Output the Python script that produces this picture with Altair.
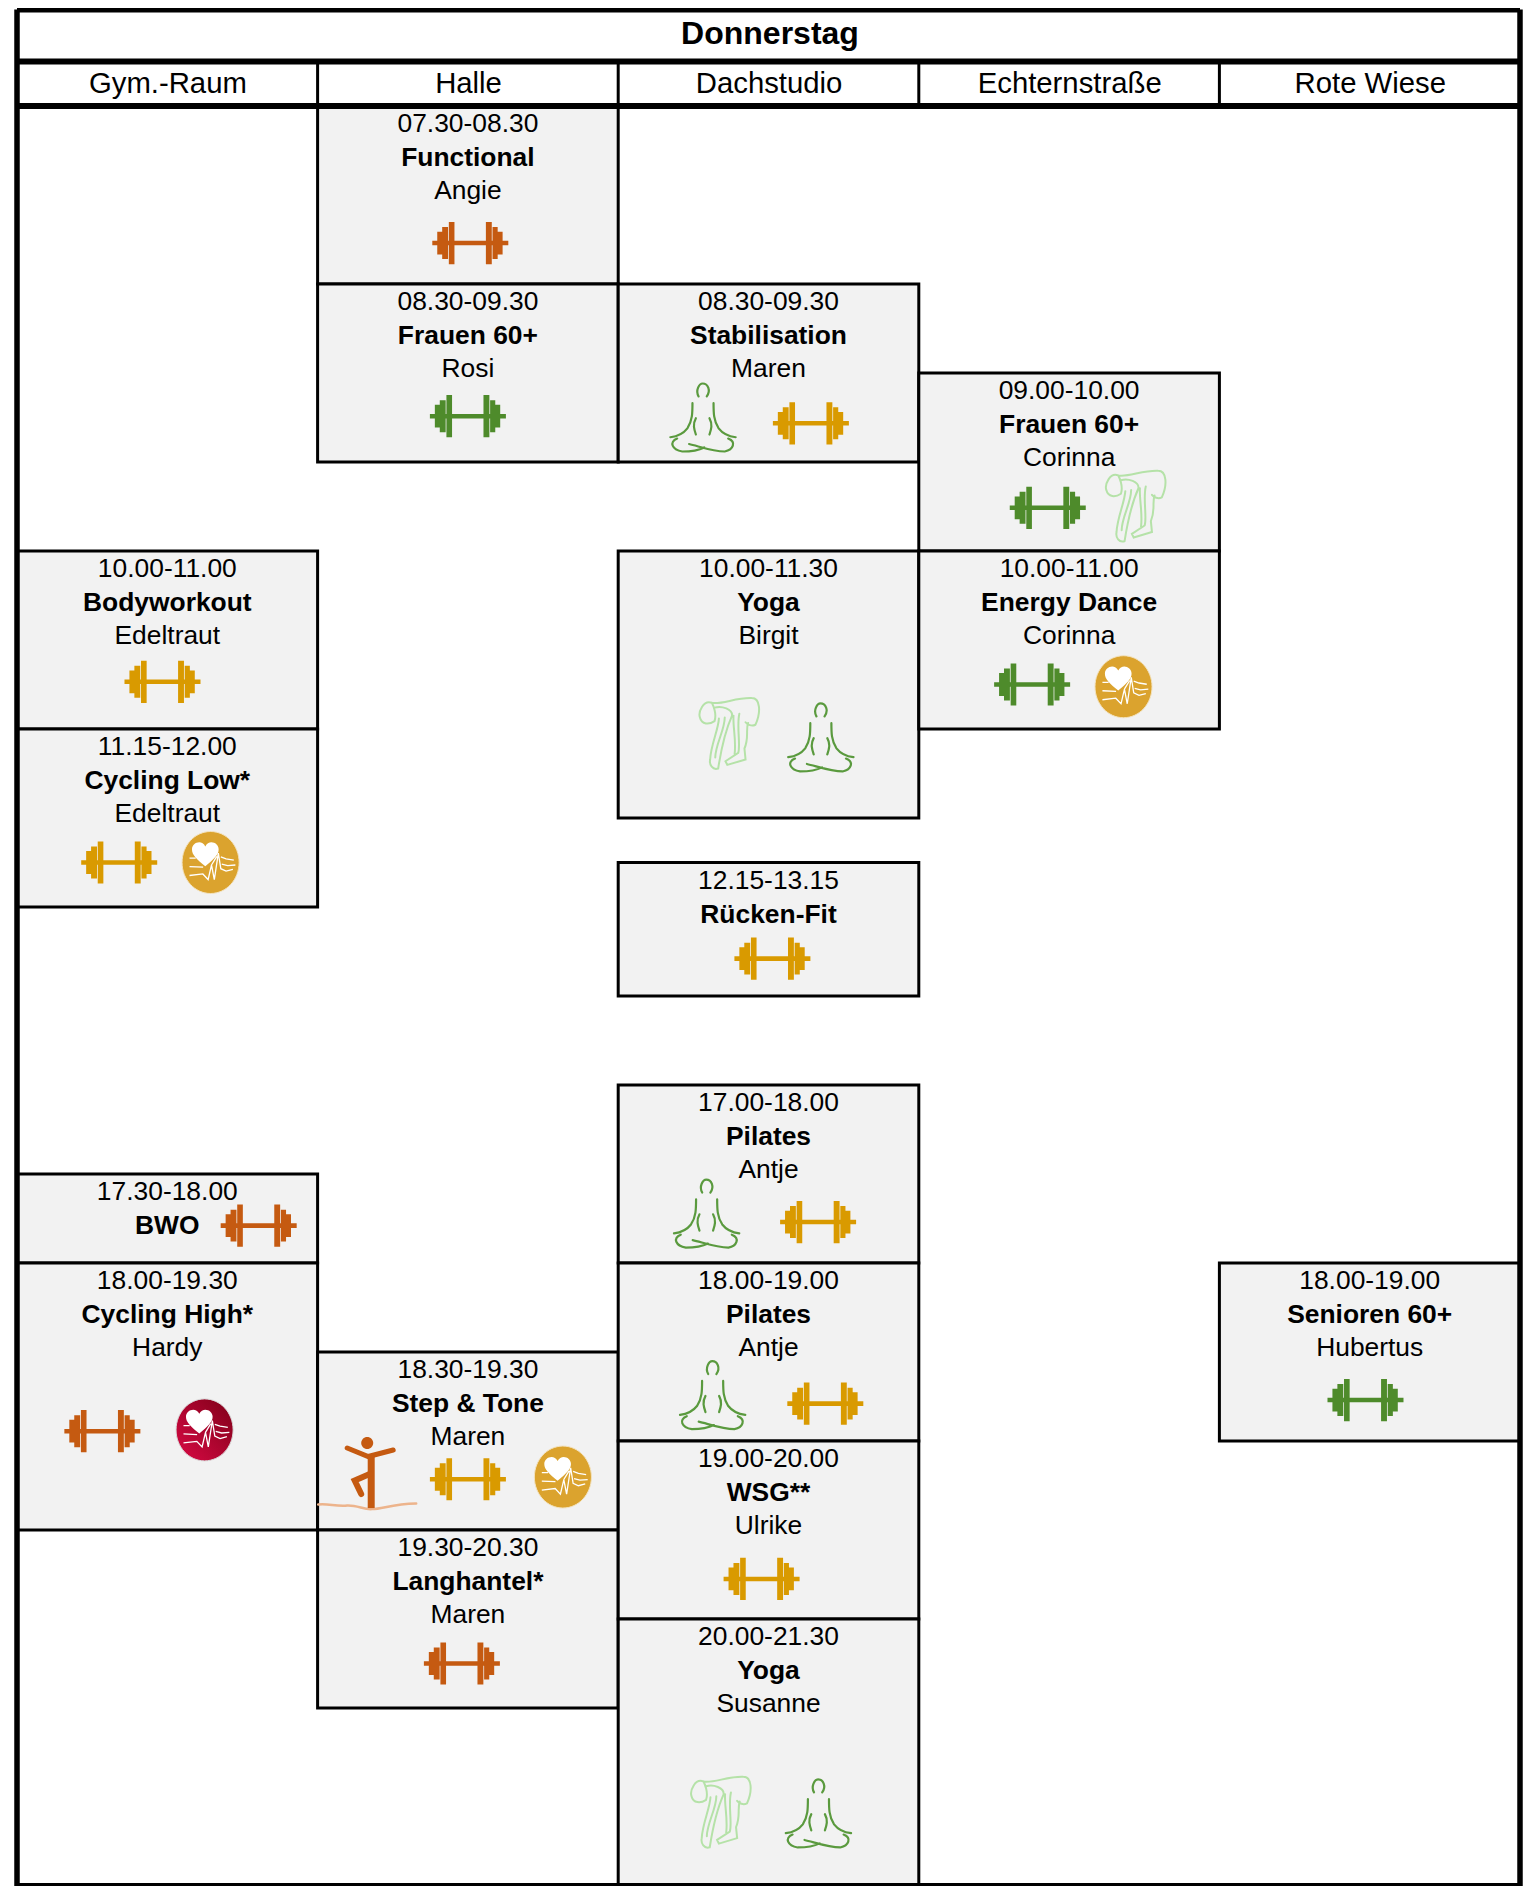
import altair as alt
import pandas as pd

FONT = "Liberation Sans"
DAY = "Donnerstag"
ROOMS = ["Gym.-Raum", "Halle", "Dachstudio", "Echternstraße", "Rote Wiese"]

# room index, first grid slot, last grid slot
CELL_ROOM = [1, 1, 2, 3, 0, 2, 3, 0, 2, 2, 0, 0, 1, 2, 1, 2, 2, 4]
CELL_START = [0, 4, 4, 6, 10, 10, 10, 14, 17, 22, 24, 26, 28, 26, 32, 30, 34, 26]
CELL_END = [4, 8, 8, 10, 14, 16, 14, 18, 20, 26, 26, 32, 32, 30, 36, 34, 40, 30]
CELL_TIME = ["07.30-08.30", "08.30-09.30", "08.30-09.30", "09.00-10.00", "10.00-11.00",
             "10.00-11.30", "10.00-11.00", "11.15-12.00", "12.15-13.15", "17.00-18.00",
             "17.30-18.00", "18.00-19.30", "18.30-19.30", "18.00-19.00", "19.30-20.30",
             "19.00-20.00", "20.00-21.30", "18.00-19.00"]
CELL_NAME = ["Functional", "Frauen 60+", "Stabilisation", "Frauen 60+", "Bodyworkout",
             "Yoga", "Energy Dance", "Cycling Low*", "Rücken-Fit", "Pilates",
             "BWO", "Cycling High*", "Step & Tone", "Pilates", "Langhantel*",
             "WSG**", "Yoga", "Senioren 60+"]
CELL_COACH = ["Angie", "Rosi", "Maren", "Corinna", "Edeltraut", "Birgit", "Corinna", "Edeltraut",
              "", "Antje", "", "Hardy", "Maren", "Antje", "Maren", "Ulrike", "Susanne", "Hubertus"]

# dumbbells: position in room units / grid slots, and tone
BELL_X = [1.508, 1.500, 2.641, 3.429, 0.484, 0.340, 3.377, 2.513, 2.665, 0.804, 0.284, 1.500, 1.480, 2.689, 2.477, 4.486]
BELL_Y = [3.08, 6.97, 7.13, 9.03, 12.94, 17.0, 13.0, 19.16, 25.08, 25.16, 29.78, 30.86, 35.0, 29.16, 33.1, 29.08]
BELL_TONE = ["orange", "green", "gold", "green", "gold", "gold", "green", "gold", "gold", "orange",
             "orange", "gold", "orange", "gold", "gold", "green"]

MED_X = [2.281, 2.673, 2.293, 2.313, 2.665]
MED_Y = [7.00, 14.19, 24.89, 28.97, 38.37]
BEND_X = [3.721, 2.369, 2.341]
BEND_Y = [9.00, 14.11, 38.35]
GOLD_HEART_X = [0.644, 3.681, 1.816]
GOLD_HEART_Y = [17.0, 13.05, 30.81]
RED_HEART_X = [0.624]
RED_HEART_Y = [29.75]
BALANCE_X = [1.165]
BALANCE_Y = [30.72]

H_RULES = [-2.17, -1, 0, 40]
V_LINES = [1, 2, 3, 4]

# ---- icon outlines -------------------------------------------------------
def box(x0, x1, h):
    return f"M{x0},{-h}L{x1},{-h}L{x1},{h}L{x0},{h}Z"

_bell = [(-1.0, 1.0, 0.06), (-0.87, -0.74, 0.30), (-0.74, -0.585, 0.42), (-0.565, -0.417, 0.555),
         (0.41, 0.565, 0.555), (0.585, 0.72, 0.42), (0.72, 0.85, 0.30)]
DUMBBELL = "".join(box(*b) for b in _bell)

MEDITATE = ("M-.12,-.62C-.22,-.8,-.1,-1,0,-1C.15,-1,.25,-.8,.12,-.62"
            "M-.3,-.42C-.3,-.15,-.3,.1,-.45,.32C-.55,.45,-.7,.55,-.95,.58"
            "M.32,-.42C.32,-.15,.32,.1,.47,.32C.57,.45,.72,.55,.97,.58"
            "M-.2,.02C-.3,.2,-.25,.35,-.2,.5M.2,.02C.3,.2,.25,.35,.2,.5"
            "M-.75,.62C-1,.72,-.9,.95,-.6,1C-.3,1,-.05,.93,.05,.88"
            "M.75,.62C1,.72,.9,.95,.65,1C.3,1,-.1,.85,-.4,.78")

BEND = ("M-.47,-.85C-.2,-.8,.2,-1,.62,-.98C.85,-.98,.88,-.6,.72,-.25C.62,-.2,.5,-.25,.45,-.32"
        "M-.47,-.85C-.7,-.95,-.85,-.6,-.8,-.45C-.75,-.25,-.55,-.25,-.4,-.35C-.35,-.5,-.4,-.7,-.47,-.85"
        "M-.4,-.72C-.2,-.78,.1,-.68,.08,-.5C-.1,-.1,-.2,.3,-.3,.95"
        "M-.28,-.42C-.3,-.1,-.5,.3,-.52,.7C-.55,.85,-.45,1,-.3,.95"
        "M-.12,-.45C-.12,-.1,-.38,.3,-.38,.65"
        "M.28,-.55C.2,-.2,.32,.3,.25,.52L-.1,.75L-.05,.85L.45,.7L.42,.4C.55,.1,.45,-.1,.52,-.3"
        "M.12,-.5C.1,-.2,.2,.2,.15,.55")

DISC = "M-.92,0A.92,1,0,1,1,.92,0A.92,1,0,1,1,-.92,0Z"
HEART = "M-.17,.12C-.45,-.1,-.6,-.25,-.6,-.42C-.6,-.65,-.28,-.75,-.17,-.52C-.06,-.75,.26,-.65,.26,-.42C.26,-.25,.1,-.1,-.17,.12Z"
PULSE = ("M-.68,-.14L-.48,-.14M-.68,.13L-.24,.15"
         "M-.68,.42L-.25,.37L-.08,.55L.03,.08L.12,.55L.25,-.3L.33,.2L.5,.28L.72,.22"
         "M.33,-.18L.5,-.12L.75,-.08M.36,.05L.55,.1L.8,.08M.03,.08L.2,-.2")

HEADDOT = "M-.12,-.6A.12,.12,0,1,1,.12,-.6A.12,.12,0,1,1,-.12,-.6Z"
ARMS = "M-.4,-.5L.02,-.33L.52,-.46"
TRUNK = "M.08,-.35L.08,.7"
LEG = "M.05,.02L-.25,.15L-.12,.42"
GROUND = "M-.98,.63C-.8,.6,-.6,.68,-.4,.65C-.2,.64,-.05,.74,.1,.72C.3,.72,.5,.62,.98,.61"

# ---- shared scales -------------------------------------------------------
XS = alt.Scale(domain=[0, 5], range=[9, 1512])
YS = alt.Scale(domain=[-2, 40], range=[9, 1878])


def X(f):
    return alt.X(f, type="quantitative", scale=XS, axis=None)


def Y(f):
    return alt.Y(f, type="quantitative", scale=YS, axis=None)


cells = pd.DataFrame({"room": CELL_ROOM, "start": CELL_START, "end": CELL_END,
                      "time": CELL_TIME, "name": CELL_NAME, "coach": CELL_COACH})
cells["room_end"] = cells["room"] + 1
cells["mid"] = cells["room"] + 0.5

rects = alt.Chart(cells).mark_rect(fill="#F2F2F2", stroke="#000000", strokeWidth=3).encode(
    x=X("room"), x2="room_end", y=Y("start"), y2="end")


def cell_text(field, dy, weight):
    return alt.Chart(cells).mark_text(font=FONT, fontSize=26.4, fontWeight=weight, color="#000000",
                                      baseline="middle", align="center", dy=dy).encode(
        x=X("mid"), y=Y("start"), text=f"{field}:N")


texts = [cell_text("time", 18, "normal"), cell_text("name", 52, "bold"), cell_text("coach", 85, "normal")]

hr = pd.DataFrame({"y": H_RULES, "a": [0] * 4, "b": [5] * 4})
h_rules = alt.Chart(hr).mark_rule(color="#000000", strokeWidth=6).encode(x=X("a"), x2="b", y=Y("y"))
vo = pd.DataFrame({"x": [0, 5], "a": [H_RULES[0]] * 2, "b": [40] * 2})
v_outer = alt.Chart(vo).mark_rule(color="#000000", strokeWidth=5.5).encode(x=X("x"), y=Y("a"), y2="b")
vi = pd.DataFrame({"x": V_LINES, "a": [-1] * 4, "b": [0] * 4})
v_inner = alt.Chart(vi).mark_rule(color="#000000", strokeWidth=3).encode(x=X("x"), y=Y("a"), y2="b")

title = alt.Chart(pd.DataFrame({"x": [2.505], "y": [-1.625], "t": [DAY]})).mark_text(
    font=FONT, fontSize=32, fontWeight="bold", color="#000000", baseline="middle").encode(
    x=X("x"), y=Y("y"), text="t:N")
heads = pd.DataFrame({"x": [i + 0.502 for i in range(5)], "y": [-0.49] * 5, "t": ROOMS})
header = alt.Chart(heads).mark_text(font=FONT, fontSize=29.3, color="#000000", baseline="middle").encode(
    x=X("x"), y=Y("y"), text="t:N")

bells = alt.Chart(pd.DataFrame({"x": BELL_X, "y": BELL_Y, "tone": BELL_TONE})).mark_point(
    shape=DUMBBELL, filled=True, size=5776, opacity=1).encode(
    x=X("x"), y=Y("y"),
    fill=alt.Fill("tone:N", legend=None,
                  scale=alt.Scale(domain=["orange", "green", "gold"], range=["#C55A11", "#4E8B2B", "#D99A00"])))


def glyph(xs, ys, shape, size, **kw):
    return alt.Chart(pd.DataFrame({"x": xs, "y": ys})).mark_point(shape=shape, size=size, opacity=1, **kw).encode(
        x=X("x"), y=Y("y"))


meds = glyph(MED_X, MED_Y, MEDITATE, 4624, filled=False, stroke="#5A9A3E", strokeWidth=2.2, strokeCap="round")
bends = glyph(BEND_X, BEND_Y, BEND, 5330, filled=False, stroke="#B5E2A8", strokeWidth=2, strokeCap="round")

HS = 3844
red_fill = alt.LinearGradient(gradient="linear", x1=1, y1=0, x2=0, y2=1,
                              stops=[alt.GradientStop(offset=0, color="#7E0018"),
                                     alt.GradientStop(offset=1, color="#DA0A45")])
heart_layers = [
    glyph(GOLD_HEART_X, GOLD_HEART_Y, DISC, HS, filled=True, fill="#DBA32E", stroke="#F3E3BF", strokeWidth=1),
    glyph(RED_HEART_X, RED_HEART_Y, DISC, HS, filled=True, fill=red_fill, stroke="#D9D9D9", strokeWidth=1),
]
for xs, ys in ((GOLD_HEART_X, GOLD_HEART_Y), (RED_HEART_X, RED_HEART_Y)):
    heart_layers.append(glyph(xs, ys, HEART, HS, filled=True, fill="#FFFFFF"))
    heart_layers.append(glyph(xs, ys, PULSE, HS, filled=False, stroke="#FFFFFF", strokeWidth=1.3))

BS = 10000
balance = [
    glyph(BALANCE_X, BALANCE_Y, GROUND, BS, filled=False, stroke="#EDB48C", strokeWidth=2.5, strokeCap="round"),
    glyph(BALANCE_X, BALANCE_Y, HEADDOT, BS, filled=True, fill="#C55A11"),
    glyph(BALANCE_X, BALANCE_Y, ARMS, BS, filled=False, stroke="#C55A11", strokeWidth=5, strokeCap="round"),
    glyph(BALANCE_X, BALANCE_Y, TRUNK, BS, filled=False, stroke="#C55A11", strokeWidth=7),
    glyph(BALANCE_X, BALANCE_Y, LEG, BS, filled=False, stroke="#C55A11", strokeWidth=6, strokeCap="round"),
]

chart = alt.layer(
    rects, *texts, bells, meds, bends, *heart_layers, *balance, h_rules, v_outer, v_inner, title, header
).properties(width=1524, height=1878, padding=0, background="#FFFFFF",
             autosize=alt.AutoSizeParams(type="none")).configure_view(stroke=None)

chart.save("out.html", embed_options={"renderer": "svg", "actions": False})
